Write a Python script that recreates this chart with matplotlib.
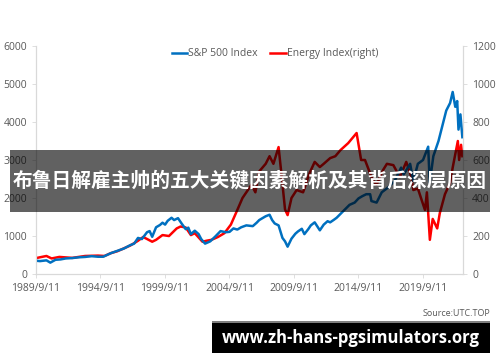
import matplotlib.pyplot as plt
from matplotlib.patches import Rectangle

# S&P 500 (left axis)
sp_years = [1989.7, 1990.0, 1990.5, 1990.8, 1991.2, 1991.6, 1992.0, 1992.5, 1993.0, 1993.5,
            1994.0, 1994.5, 1994.9, 1995.5, 1996.0, 1996.5, 1997.0, 1997.3, 1997.6, 1997.9,
            1998.3, 1998.5, 1998.7, 1999.0, 1999.3, 1999.5, 1999.7, 1999.9, 2000.2, 2000.4,
            2000.7, 2001.0, 2001.3, 2001.5, 2001.7, 2002.0, 2002.3, 2002.5, 2002.8, 2003.2,
            2003.6, 2004.0, 2004.4, 2004.7, 2005.0, 2005.3, 2005.6, 2006.0, 2006.5, 2006.8,
            2007.0, 2007.3, 2007.5, 2007.8, 2008.0, 2008.2, 2008.5, 2008.8, 2009.0, 2009.2,
            2009.5, 2009.8, 2010.0, 2010.3, 2010.5, 2010.8, 2011.0, 2011.3, 2011.7, 2012.0,
            2012.3, 2012.5, 2012.8, 2013.0, 2013.5, 2014.0, 2014.4, 2014.7, 2015.0, 2015.3,
            2015.6, 2015.7, 2016.1, 2016.5, 2017.0, 2017.5, 2018.0, 2018.2, 2018.7, 2018.95,
            2019.3, 2019.7, 2020.1, 2020.22, 2020.5, 2020.9, 2021.2, 2021.5, 2021.8, 2022.0,
            2022.2, 2022.35, 2022.45, 2022.6, 2022.75]
sp_values = [350, 340, 360, 300, 375, 385, 410, 420, 440, 450,
             470, 455, 455, 550, 610, 670, 760, 800, 950, 920,
             1100, 1130, 980, 1230, 1290, 1350, 1300, 1400, 1480, 1420,
             1470, 1320, 1180, 1220, 1050, 1140, 1050, 920, 800, 860,
             990, 1130, 1100, 1110, 1200, 1170, 1230, 1280, 1260, 1350,
             1420, 1480, 1520, 1560, 1420, 1330, 1280, 950, 860, 720,
             930, 1060, 1120, 1190, 1050, 1180, 1280, 1360, 1150, 1300,
             1390, 1360, 1430, 1480, 1650, 1820, 1880, 1990, 2050, 2100,
             2100, 1920, 1880, 2150, 2280, 2450, 2800, 2620, 2900, 2450,
             2900, 3000, 3350, 2400, 3100, 3500, 3900, 4300, 4500, 4790,
             4400, 4550, 3800, 4200, 3600]

# Energy index (right axis)
en_years = [1989.7, 1990.5, 1990.9, 1991.5, 1992.5, 1993.5, 1994.5, 1995.0, 1995.5, 1996.0,
            1996.5, 1997.0, 1997.6, 1998.0, 1998.7, 1999.0, 1999.5, 2000.0, 2000.6, 2000.9,
            2001.3, 2001.7, 2002.0, 2002.6, 2002.9, 2003.3, 2003.8, 2004.3, 2004.8, 2005.3,
            2005.7, 2006.0, 2006.4, 2006.7, 2007.0, 2007.5, 2007.8, 2008.1, 2008.5, 2008.7,
            2009.0, 2009.2, 2009.5, 2009.9, 2010.4, 2010.9, 2011.3, 2011.7, 2012.0, 2012.5,
            2012.9, 2013.3, 2013.9, 2014.55, 2014.9, 2015.2, 2015.8, 2016.1, 2016.6, 2016.9,
            2017.4, 2017.9, 2018.4, 2018.8, 2018.95, 2019.3, 2019.85, 2020.0, 2020.23, 2020.45,
            2020.8, 2021.0, 2021.4, 2021.8, 2022.0, 2022.4, 2022.5, 2022.65, 2022.75]
en_values = [84, 95, 82, 90, 85, 95, 97, 95, 110, 120,
             135, 150, 175, 195, 170, 180, 205, 200, 240, 250,
             245, 205, 215, 170, 175, 180, 195, 215, 260, 337,
             400, 430, 470, 430, 540, 580, 620, 580, 668, 540,
             340, 310, 400, 442, 430, 531, 590, 563, 580, 610,
             620, 652, 689, 742, 600, 600, 494, 470, 547, 580,
             573, 510, 590, 510, 442, 450, 337, 430, 180, 290,
             240, 320, 420, 480, 560, 700, 600, 680, 620]

x_ticks = [1989.69, 1994.69, 1999.69, 2004.69, 2009.69, 2014.69, 2019.69]
x_labels = ["1989/9/11", "1994/9/11", "1999/9/11", "2004/9/11", "2009/9/11", "2014/9/11", "2019/9/11"]
left_ticks = [0, 1000, 2000, 3000, 4000, 5000, 6000]
right_ticks = [0, 200, 400, 600, 800, 1000, 1200]

plt.rcParams["font.family"] = ["Open Sans", "DejaVu Sans"]
gray = "#595959"
axis_col = "#d9d9d9"

fig = plt.figure(figsize=(5, 3.62), dpi=100)
ax = fig.add_axes([0.072, 0.243, 0.854, 0.630])
ax2 = ax.twinx()

ln1, = ax.plot(sp_years, sp_values, color="#0070C0", linewidth=1.8, label="S&P 500 Index")
ln2, = ax2.plot(en_years, en_values, color="#FF0000", linewidth=1.8, label="Energy Index(right)")
ax.set_zorder(ax2.get_zorder() + 1)
ax.patch.set_visible(False)

ax.set_xlim(1989.69, 2022.8)
ax.set_ylim(0, 6000)
ax2.set_ylim(0, 1200)
ax.set_xticks(x_ticks)
ax.set_xticklabels(x_labels)
ax.set_yticks(left_ticks)
ax2.set_yticks(right_ticks)

for a in (ax, ax2):
    for s in a.spines.values():
        s.set_color(axis_col)
        s.set_linewidth(0.8)
    a.spines["top"].set_visible(False)
    a.tick_params(colors=gray, labelsize=7.5, length=3, width=0.6)
    a.tick_params(axis="both", color=axis_col)

fig.legend([ln1, ln2], ["S&P 500 Index", "Energy Index(right)"], loc="center",
           bbox_to_anchor=(0.55, 0.851), ncol=2, frameon=False, fontsize=7.5,
           handlelength=1.5, handletextpad=0.1, columnspacing=1.2, labelcolor=gray)

fig.text(0.98, 0.135, "Source:UTC.TOP", ha="right", va="center", fontsize=6.5, color=gray)

# overlay banner
fig.patches.append(Rectangle((10 / 500, 1 - 212 / 362), 480 / 500, 62 / 362,
                             transform=fig.transFigure, facecolor="black", alpha=0.62,
                             edgecolor="none", zorder=10))
fig.text(0.5, 1 - 181 / 362, "布鲁日解雇主帅的五大关键因素解析及其背后深层原因",
         ha="center", va="center", fontsize=14.2, color="white", fontweight="bold",
         family=["Noto Sans CJK SC", "DejaVu Sans"], zorder=11)

# watermark box
fig.patches.append(Rectangle((212 / 500, 1 - 353 / 362), 278 / 500, 32 / 362,
                             transform=fig.transFigure, facecolor="#7f7f7f",
                             edgecolor="none", zorder=10))
fig.patches.append(Rectangle((212 / 500, 1 - 353 / 362), 278 / 500, 30 / 362,
                             transform=fig.transFigure, facecolor="black",
                             edgecolor="none", zorder=10))
fig.text(351 / 500, 1 - 338 / 362, "www.zh-hans-pgsimulators.org", ha="center", va="center",
         fontsize=12, color="white", fontweight="bold", zorder=11)

fig.savefig("out.png", dpi=100)
